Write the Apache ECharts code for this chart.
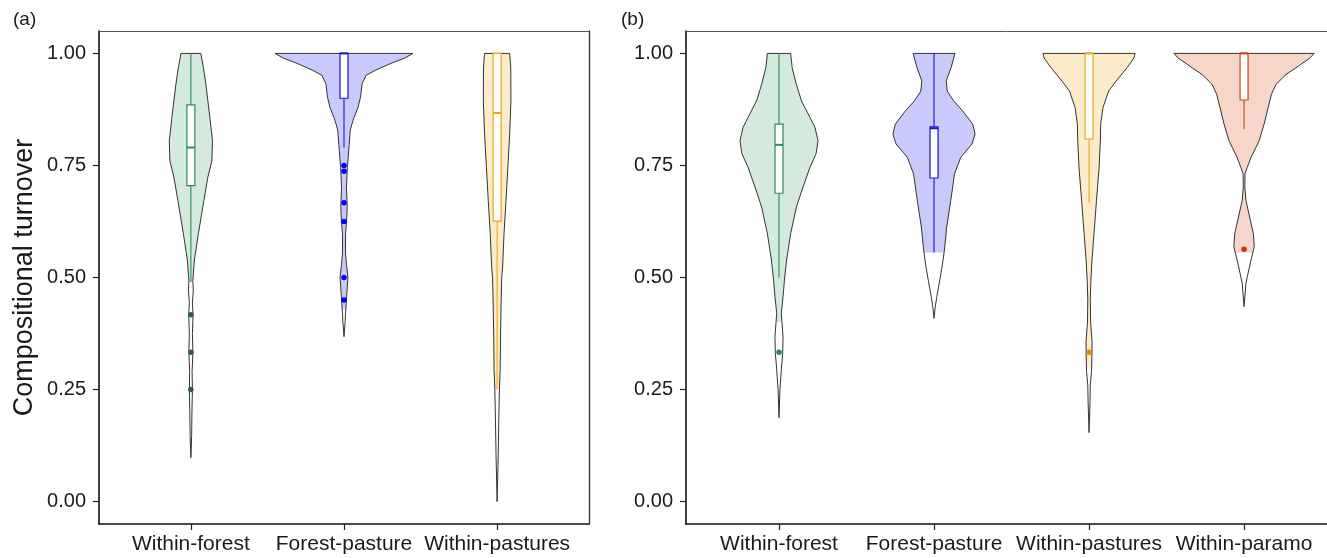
<!DOCTYPE html>
<html><head><meta charset="utf-8">
<script src="https://cdn.jsdelivr.net/npm/echarts@6/dist/echarts.min.js"></script>
<style>html,body{margin:0;padding:0;background:#fff}#c{width:1327px;height:558px}</style>
</head><body><div id="c"></div>
<script>
// ---------- data ----------
const categoriesA = ['Within-forest', 'Forest-pasture', 'Within-pastures'];
const categoriesB = ['Within-forest', 'Forest-pasture', 'Within-pastures', 'Within-paramo'];
const yTicks = [0, 0.25, 0.5, 0.75, 1.0];
const panelLabels = ['(a)', '(b)'];
const yTitle = 'Compositional turnover';

// violin density profiles: [turnover value, half width (category units)]
const aWithinForestProfile = [[1.0,0.065],[0.968,0.082],[0.931,0.098],[0.894,0.111],[0.857,0.124],[0.805,0.141],[0.76,0.137],[0.724,0.111],[0.672,0.085],[0.598,0.049],[0.539,0.023],[0.494,0.013],[0.47,0.016],[0.445,0.010],[0.417,0.014],[0.375,0.010],[0.333,0.013],[0.29,0.008],[0.25,0.010],[0.2,0.007],[0.147,0.005],[0.098,0]];
const aForestPastureProfile = [[1.0,0.451],[0.99,0.399],[0.977,0.301],[0.962,0.203],[0.951,0.144],[0.932,0.118],[0.903,0.108],[0.88,0.092],[0.851,0.059],[0.829,0.041],[0.784,0.031],[0.746,0.022],[0.70,0.016],[0.657,0.021],[0.62,0.016],[0.598,0.010],[0.554,0.010],[0.53,0.016],[0.5,0.026],[0.472,0.020],[0.45,0.016],[0.42,0.010],[0.4,0.007],[0.368,0]];
const aWithinPasturesProfile = [[1.0,0.082],[0.968,0.089],[0.894,0.090],[0.82,0.082],[0.746,0.070],[0.672,0.058],[0.598,0.045],[0.524,0.036],[0.5,0.030],[0.443,0.026],[0.361,0.022],[0.295,0.020],[0.25,0.015],[0.184,0.011],[0.102,0.007],[0.0,0]];

const bWithinForestProfile = [[1.0,0.075],[0.968,0.085],[0.931,0.112],[0.894,0.145],[0.857,0.200],[0.835,0.232],[0.805,0.252],[0.776,0.239],[0.746,0.200],[0.702,0.155],[0.657,0.112],[0.598,0.075],[0.539,0.049],[0.494,0.035],[0.457,0.026],[0.42,0.015],[0.368,0.026],[0.333,0.024],[0.295,0.015],[0.25,0.006],[0.187,0]];
const bForestPastureProfile = [[1.0,0.135],[0.968,0.110],[0.939,0.079],[0.916,0.085],[0.894,0.127],[0.872,0.184],[0.842,0.250],[0.82,0.265],[0.798,0.245],[0.768,0.172],[0.731,0.132],[0.672,0.108],[0.613,0.082],[0.561,0.067],[0.524,0.052],[0.494,0.037],[0.457,0.018],[0.435,0.008],[0.409,0]];
const bWithinPasturesProfile = [[1.0,0.297],[0.99,0.290],[0.968,0.245],[0.938,0.174],[0.916,0.126],[0.879,0.090],[0.842,0.075],[0.805,0.073],[0.746,0.065],[0.672,0.048],[0.598,0.032],[0.539,0.019],[0.494,0.012],[0.45,0.008],[0.40,0.010],[0.36,0.019],[0.333,0.019],[0.29,0.016],[0.26,0.008],[0.22,0.006],[0.154,0]];
const bWithinParamoProfile = [[1.0,0.452],[0.99,0.426],[0.968,0.335],[0.953,0.271],[0.931,0.206],[0.909,0.177],[0.879,0.155],[0.842,0.129],[0.805,0.097],[0.768,0.045],[0.746,0.021],[0.731,0.006],[0.702,0.005],[0.672,0.012],[0.635,0.036],[0.598,0.060],[0.569,0.066],[0.539,0.045],[0.502,0.021],[0.487,0.012],[0.435,0]];

// box statistics: [lower whisker, Q1, median, Q3, upper whisker]
const aBoxStats = [[0.49,0.705,0.79,0.885,1.0],[0.79,0.90,1.0,1.0,1.0],[0.25,0.626,0.867,1.0,1.0]];
const bBoxStats = [[0.50,0.688,0.796,0.842,1.0],[0.556,0.722,0.833,0.836,1.0],[0.666,0.809,1.0,1.0,1.0],[0.831,0.896,1.0,1.0,1.0]];
// lower limit of the coloured part of each violin
const aFillLow = [0.49, 0.43, 0.25];
const bFillLow = [0.40, 0.556, 0.30, 0.555];
// outliers
const aOutliers = [[0.417,0.333,0.25],[0.75,0.737,0.667,0.625,0.5,0.45],[]];
const bOutliers = [[0.333],[],[0.333],[0.563]];

// ---------- styles ----------
const FONT = "'Liberation Sans', Arial, Helvetica, sans-serif";
const fillColors = ['#d4eadd', '#c9c9fb', '#fdecc9', '#f7d6c9'];
const lineColors = ['#2e8b57', '#1616c8', '#e9a81a', '#c4471a'];
const aOutlierColors = ['#2b6047', '#0000ff', '#e9a81a'];
const bOutlierColors = ['#2e8b57', '#1616c8', '#e08a00', '#cc3300'];
const BOX_HALF = 4;

const aProfiles = [aWithinForestProfile, aForestPastureProfile, aWithinPasturesProfile];
const bProfiles = [bWithinForestProfile, bForestPastureProfile, bWithinPasturesProfile, bWithinParamoProfile];

function makeRender(profiles, stats, fillLows) {
  return function (params, api) {
    const i = params.dataIndex;
    const cx = api.value(0);
    const prof = profiles[i];
    const poly = (pr) => {
      const r = pr.map(p => api.coord([cx + p[1], p[0]]));
      const l = pr.slice().reverse().map(p => api.coord([cx - p[1], p[0]]));
      return r.concat(l);
    };
    const outline = poly(prof);
    const fl = fillLows[i];
    const sub = [];
    for (let k = 0; k < prof.length; k++) {
      if (prof[k][0] >= fl) sub.push(prof[k]);
      else {
        const a = prof[k - 1], b = prof[k];
        const t = (a[0] - fl) / (a[0] - b[0]);
        sub.push([fl, a[1] + (b[1] - a[1]) * t]);
        break;
      }
    }
    const fillPoly = poly(sub);
    const col = lineColors[i];
    const s = stats[i];
    const px = api.coord([cx, 0])[0];
    const yLow = api.coord([cx, s[0]])[1];
    const yQ1 = api.coord([cx, s[1]])[1];
    const yMed = api.coord([cx, s[2]])[1];
    const yQ3 = api.coord([cx, s[3]])[1];
    const yHigh = api.coord([cx, s[4]])[1];
    const children = [
      { type: 'polygon', shape: { points: outline }, style: { fill: '#ffffff', stroke: null } },
      { type: 'polygon', shape: { points: fillPoly }, style: { fill: fillColors[i], stroke: null } },
      { type: 'polygon', shape: { points: outline }, style: { fill: null, stroke: '#333333', lineWidth: 1 } },
      { type: 'line', shape: { x1: px, y1: yQ3, x2: px, y2: yHigh }, style: { stroke: col, lineWidth: 1.1 } },
      { type: 'line', shape: { x1: px, y1: yQ1, x2: px, y2: yLow }, style: { stroke: col, lineWidth: 1.1 } },
      { type: 'rect', shape: { x: px - BOX_HALF, y: yQ3, width: BOX_HALF * 2, height: Math.max(yQ1 - yQ3, 0.5) }, style: { fill: '#ffffff', stroke: col, lineWidth: 1.2 } },
      { type: 'line', shape: { x1: px - BOX_HALF, y1: yMed, x2: px + BOX_HALF, y2: yMed }, style: { stroke: col, lineWidth: 2 } }
    ];
    return { type: 'group', children: children };
  };
}

function outlierData(outs, colors) {
  const d = [];
  outs.forEach((arr, i) => arr.forEach(v => d.push({ value: [i + 1, v], itemStyle: { color: colors[i], opacity: 1 } })));
  return d;
}

const labelStyle = { fontFamily: FONT, color: '#1a1a1a' };

function bottomX(grid, max, cats) {
  return {
    gridIndex: grid, type: 'value', min: 0.4, max: max, position: 'bottom',
    axisLine: { show: true, onZero: false, lineStyle: { color: '#111', width: 1.6 } },
    axisTick: { show: true, customValues: cats.map((c, k) => k + 1), length: 6, lineStyle: { color: '#222', width: 1.2 } },
    axisLabel: Object.assign({ customValues: cats.map((c, k) => k + 1), fontSize: 21, margin: 10,
      formatter: v => cats[Math.round(v) - 1] || '' }, labelStyle),
    splitLine: { show: false }
  };
}
function topX(grid, max) {
  return {
    gridIndex: grid, type: 'value', min: 0.4, max: max, position: 'top',
    axisLine: { show: true, onZero: false, lineStyle: { color: '#555', width: 1 } },
    axisTick: { show: false }, axisLabel: { show: false }, splitLine: { show: false }
  };
}
function leftY(grid, withName) {
  const o = {
    gridIndex: grid, type: 'value', min: -0.05, max: 1.05, position: 'left',
    axisLine: { show: true, onZero: false, lineStyle: { color: '#111', width: 1.6 } },
    axisTick: { show: true, customValues: yTicks, length: 6, lineStyle: { color: '#222', width: 1.2 } },
    axisLabel: Object.assign({ customValues: yTicks, fontSize: 20, margin: 13, formatter: v => v.toFixed(2) }, labelStyle),
    splitLine: { show: false }
  };
  if (withName) {
    o.name = yTitle; o.nameLocation = 'middle'; o.nameGap = 61;
    o.nameTextStyle = { fontSize: 27, fontFamily: FONT, color: '#1a1a1a' };
  }
  return o;
}

const option = {
  backgroundColor: '#ffffff',
  animation: false,
  graphic: [
    { type: 'text', left: 13, top: 10, style: { text: panelLabels[0], fontSize: 19, fontFamily: FONT, fill: '#1a1a1a' } },
    { type: 'text', left: 621, top: 10, style: { text: panelLabels[1], fontSize: 19, fontFamily: FONT, fill: '#1a1a1a' } }
  ],
  grid: [
    { left: 99, top: 31, width: 490, height: 493 },
    { left: 686, top: 31, right: 0, height: 493 }
  ],
  xAxis: [bottomX(0, 3.6, categoriesA), bottomX(1, 4.535, categoriesB), topX(0, 3.6), topX(1, 4.535)],
  yAxis: [leftY(0, true), leftY(1, false),
    { gridIndex: 0, type: 'value', min: -0.05, max: 1.05, position: 'right',
      axisLine: { show: true, onZero: false, lineStyle: { color: '#333', width: 1.3 } },
      axisTick: { show: false }, axisLabel: { show: false }, splitLine: { show: false } }],
  series: [
    { type: 'custom', xAxisIndex: 0, yAxisIndex: 0, renderItem: makeRender(aProfiles, aBoxStats, aFillLow),
      data: categoriesA.map((c, k) => [k + 1]), z: 2, silent: true },
    { type: 'custom', xAxisIndex: 1, yAxisIndex: 1, renderItem: makeRender(bProfiles, bBoxStats, bFillLow),
      data: categoriesB.map((c, k) => [k + 1]), z: 2, silent: true },
    { type: 'scatter', xAxisIndex: 0, yAxisIndex: 0, symbolSize: 5.5, data: outlierData(aOutliers, aOutlierColors), z: 3 },
    { type: 'scatter', xAxisIndex: 1, yAxisIndex: 1, symbolSize: 5.5, data: outlierData(bOutliers, bOutlierColors), z: 3 }
  ]
};
const chart = echarts.init(document.getElementById('c'), null, { renderer: 'canvas' });
chart.setOption(option);
</script></body></html>
